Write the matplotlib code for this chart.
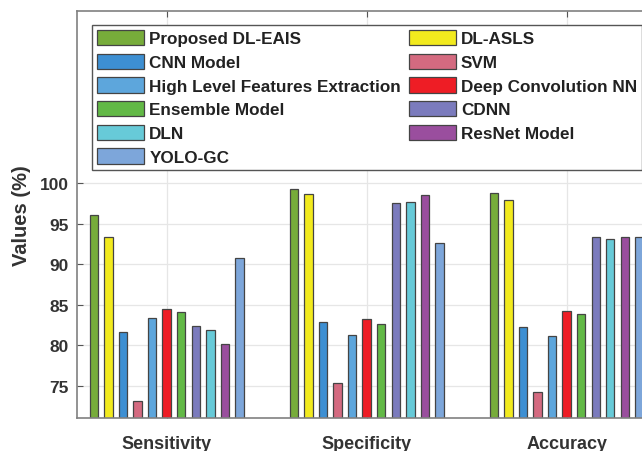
import matplotlib
matplotlib.use("Agg")
import matplotlib.pyplot as plt
import numpy as np
from matplotlib.patches import Patch

categories = ["Sensitivity", "Specificity", "Accuracy"]
models = ["Proposed DL-EAIS", "DL-ASLS", "CNN Model", "SVM",
          "High Level Features Extraction", "Deep Convolution NN",
          "Ensemble Model", "CDNN", "DLN", "ResNet Model", "YOLO-GC"]
colors = ["#77AC3A", "#F2EA1E", "#3D8FD2", "#D46A80", "#5DA6DC", "#EE1D25",
          "#62B946", "#7B7BBD", "#67CAD8", "#9A4E9E", "#7DA6DA"]

proposed = [96.1, 99.3, 98.8]
dl_asls = [93.4, 98.7, 97.9]
cnn = [81.6, 82.9, 82.3]
svm = [73.1, 75.3, 74.2]
hlfe = [83.4, 81.3, 81.1]
dcnn = [84.5, 83.2, 84.2]
ensemble = [84.1, 82.6, 83.9]
cdnn = [82.4, 97.5, 93.4]
dln = [81.9, 97.7, 93.1]
resnet = [80.1, 98.5, 93.4]
yolo = [90.75, 92.6, 93.3]
series = [proposed, dl_asls, cnn, svm, hlfe, dcnn, ensemble, cdnn, dln, resnet, yolo]

plt.rcParams['font.family'] = ['Liberation Sans', 'DejaVu Sans']
fig = plt.figure(figsize=(6.42, 4.52), dpi=100)
ax = fig.add_axes([77.3/642, 1-419.3/452, (656-77.3)/642, (419.3-12)/452])

x = np.arange(1, len(categories)+1)
slot = 0.0728
width = 0.042
n = len(series)
for i, (vals, c) in enumerate(zip(series, colors)):
    ax.bar(x + (i - (n-1)/2)*slot, vals, width=width, color=c,
           edgecolor="#444444", linewidth=0.9, zorder=2)

ax.set_xlim(0.553, 3.447)
ax.set_ylim(71, 121.2)
ax.set_xticks(x)
ax.set_xticklabels(categories, fontsize=13, fontweight='bold', color='#333333')
ax.set_yticks([75, 80, 85, 90, 95, 100])
ax.set_yticklabels(['75', '80', '85', '90', '95', '100'], fontsize=12.5,
                   fontweight='bold', color='#333333')
ax.tick_params(axis='both', direction='in', length=4, width=0.8, color='#555555',
               top=True, right=True)
ax.tick_params(axis='x', pad=12)
ax.tick_params(axis='y', pad=6)
ax.grid(True, color='#e6e6e6', linewidth=0.9, zorder=0)
ax.set_axisbelow(True)
for s in ax.spines.values():
    s.set_color('#808080')
    s.set_linewidth(1.2)

ax.set_ylabel("Values (%)", fontsize=14.5, fontweight='bold', color='#333333')
ax.yaxis.set_label_coords(-(77.3-31.5)/(656-77.3), (419.3-216)/(419.3-12))

handles = [Patch(facecolor=c, edgecolor="#444444", linewidth=0.9) for c in colors]
# MATLAB fills legend row-wise; reorder for matplotlib's column-wise filling
order = [0, 2, 4, 6, 8, 10, 1, 3, 5, 7, 9]
hh = [handles[k] for k in order]
ll = [models[k] for k in order]
leg = ax.legend(hh, ll, ncol=2, loc='upper left',
                bbox_to_anchor=(91.7/642, 1-25.5/452), bbox_transform=fig.transFigure,
                borderaxespad=0, fancybox=False, framealpha=1, edgecolor='#555555',
                prop={'weight': 'bold', 'size': 12.3}, handlelength=2.75,
                handleheight=1.0, handletextpad=0.3, columnspacing=0.45,
                labelspacing=0.42, borderpad=0.32)
leg.get_frame().set_linewidth(1.0)
for t in leg.get_texts():
    t.set_color('#222222')

fig.savefig("out.png", dpi=100)
